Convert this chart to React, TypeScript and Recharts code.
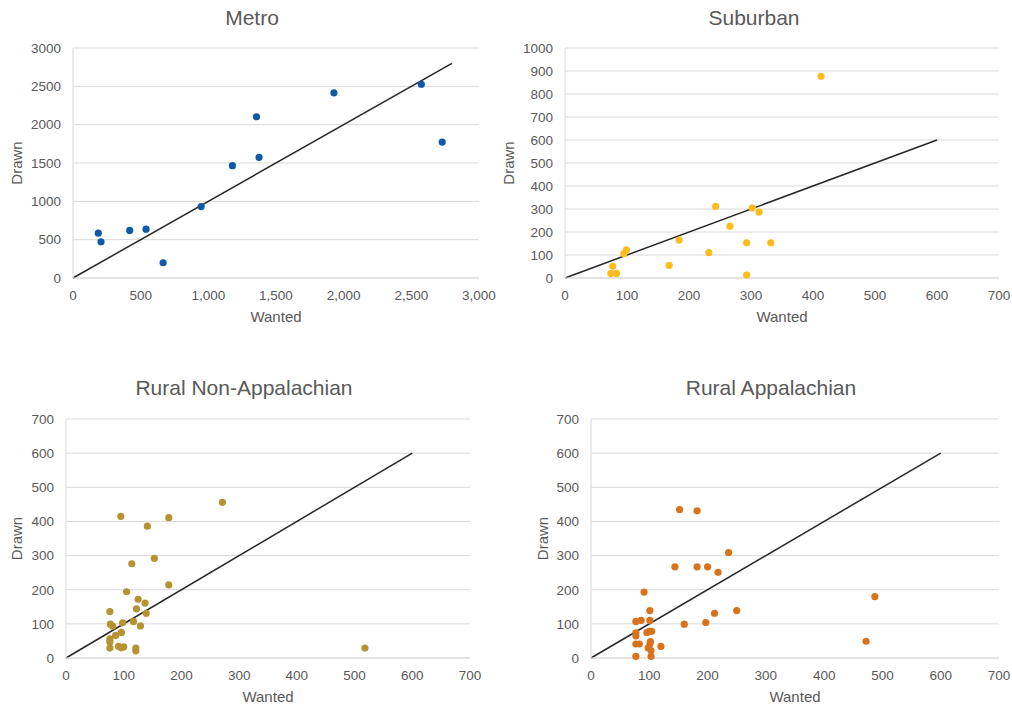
import React from 'react';
import { ScatterChart, Scatter, XAxis, YAxis, CartesianGrid, ReferenceLine } from 'recharts';

// ---- Data ----
const metroWanted = [187, 207, 419, 540, 666, 947, 1178, 1356, 1375, 1928, 2574, 2728];
const metroDrawn = [585, 473, 620, 637, 199, 932, 1465, 2103, 1574, 2415, 2527, 1773];

const suburbanWanted = [413, 243, 302, 313, 266, 184, 293, 332, 232, 99, 95, 168, 77, 74, 83, 293];
const suburbanDrawn = [877, 311, 305, 286, 225, 165, 153, 153, 110, 122, 106, 55, 51, 20, 20, 13];

const ruralNonAppWanted = [271, 95, 178, 141, 153, 114, 178, 105, 125, 137, 122, 139, 76, 117, 98, 77, 81, 129, 96, 86, 76, 76, 76, 91, 96, 100, 121, 121, 518];
const ruralNonAppDrawn = [456, 415, 411, 386, 292, 276, 214, 194, 172, 161, 144, 131, 136, 107, 103, 99, 93, 94, 75, 66, 56, 47, 29, 34, 30, 33, 29, 21, 29];

const ruralAppWanted = [152, 182, 236, 144, 182, 200, 218, 91, 250, 101, 212, 160, 197, 487, 472, 77, 86, 101, 77, 77, 96, 100, 104, 77, 83, 102, 101, 98, 103, 120, 77, 103];
const ruralAppDrawn = [435, 431, 309, 267, 267, 267, 251, 193, 139, 139, 131, 99, 104, 180, 49, 107, 110, 110, 74, 65, 75, 78, 78, 41, 41, 48, 41, 30, 22, 34, 5, 5];

const metroTicksX = [0, 500, 1000, 1500, 2000, 2500, 3000];
const metroTicksY = [0, 500, 1000, 1500, 2000, 2500, 3000];
const suburbanTicksY = [0, 100, 200, 300, 400, 500, 600, 700, 800, 900, 1000];
const smallTicksX = [0, 100, 200, 300, 400, 500, 600, 700];
const ruralTicksY = [0, 100, 200, 300, 400, 500, 600, 700];

const metroLineEnd = 2800;
const otherLineEnd = 600;

const zip = (xs: number[], ys: number[]) => xs.map((x, i) => ({ x, y: ys[i] }));

const TEXT = '#595959';
const GRID = '#d9d9d9';

type PanelProps = {
  left: number; top: number; width: number; height: number;
  margin: { top: number; right: number; left: number; bottom: number };
  yAxisWidth: number;
  yLabelOffset: number;
  xTicks: number[]; yTicks: number[];
  data: { x: number; y: number }[];
  lineEnd: number;
  color: string;
  xFormat?: (v: number) => string;
};

const Panel = (p: PanelProps) => {
  const dot = (props: any) => <circle cx={props.cx} cy={props.cy} r={3.6} fill={p.color} />;
  return (
    <div style={{ position: 'absolute', left: p.left, top: p.top }}>
      <ScatterChart width={p.width} height={p.height} margin={p.margin}>
        <CartesianGrid vertical={false} stroke={GRID} strokeWidth={1} />
        <XAxis
          type="number"
          dataKey="x"
          domain={[p.xTicks[0], p.xTicks[p.xTicks.length - 1]]}
          ticks={p.xTicks}
          interval={0}
          height={44}
          axisLine={{ stroke: GRID }}
          tickLine={false}
          tickSize={6}
          tickMargin={6}
          tick={{ fill: TEXT, fontSize: 13.5 }}
          tickFormatter={p.xFormat}
          label={{ value: 'Wanted', position: 'insideBottom', offset: 0, fill: TEXT, fontSize: 15 }}
        />
        <YAxis
          type="number"
          dataKey="y"
          domain={[p.yTicks[0], p.yTicks[p.yTicks.length - 1]]}
          ticks={p.yTicks}
          interval={0}
          width={p.yAxisWidth}
          axisLine={{ stroke: GRID }}
          tickLine={false}
          tickSize={6}
          tickMargin={6}
          tick={{ fill: TEXT, fontSize: 13.5 }}
          label={{ value: 'Drawn', angle: -90, position: 'insideLeft', offset: p.yLabelOffset, fill: TEXT, fontSize: 15, style: { textAnchor: 'middle' } }}
        />
        <ReferenceLine
          segment={[{ x: 0, y: 0 }, { x: p.lineEnd, y: p.lineEnd }]}
          stroke="#262626"
          strokeWidth={1.5}
          ifOverflow="visible"
        />
        <Scatter data={p.data} fill={p.color} shape={dot} isAnimationActive={false} />
      </ScatterChart>
    </div>
  );
};

const titles = [
  { text: 'Metro', x: 252, y: 25 },
  { text: 'Suburban', x: 754, y: 25 },
  { text: 'Rural Non-Appalachian', x: 244, y: 395 },
  { text: 'Rural Appalachian', x: 771, y: 395 },
];

export default function App() {
  return (
    <div
      style={{
        position: 'absolute', left: 0, top: 0, width: 1012, height: 705,
        background: '#ffffff', fontFamily: '"Liberation Sans", Arial, sans-serif', overflow: 'hidden',
      }}
    >
      <Panel
        left={0} top={0} width={500} height={330}
        margin={{ top: 48, right: 21, left: 0, bottom: 8 }}
        yAxisWidth={73} yLabelOffset={17}
        xTicks={metroTicksX} yTicks={metroTicksY}
        data={zip(metroWanted, metroDrawn)} lineEnd={metroLineEnd}
        color="#1059A6"
        xFormat={(v: number) => v.toLocaleString('en-US')}
      />
      <Panel
        left={500} top={0} width={512} height={330}
        margin={{ top: 48, right: 13, left: 0, bottom: 8 }}
        yAxisWidth={65} yLabelOffset={9}
        xTicks={smallTicksX} yTicks={suburbanTicksY}
        data={zip(suburbanWanted, suburbanDrawn)} lineEnd={otherLineEnd}
        color="#FDBB1E"
      />
      <Panel
        left={0} top={370} width={500} height={335}
        margin={{ top: 49, right: 30, left: 0, bottom: 3 }}
        yAxisWidth={66} yLabelOffset={17}
        xTicks={smallTicksX} yTicks={ruralTicksY}
        data={zip(ruralNonAppWanted, ruralNonAppDrawn)} lineEnd={otherLineEnd}
        color="#B69232"
      />
      <Panel
        left={500} top={370} width={512} height={335}
        margin={{ top: 49, right: 13, left: 0, bottom: 3 }}
        yAxisWidth={91} yLabelOffset={43}
        xTicks={smallTicksX} yTicks={ruralTicksY}
        data={zip(ruralAppWanted, ruralAppDrawn)} lineEnd={otherLineEnd}
        color="#D8731C"
      />
      <svg width={1012} height={705} style={{ position: 'absolute', left: 0, top: 0, pointerEvents: 'none' }}>
        {titles.map((t) => (
          <text key={t.text} x={t.x} y={t.y} textAnchor="middle" fill={TEXT} fontSize={21}>
            {t.text}
          </text>
        ))}
      </svg>
    </div>
  );
}
